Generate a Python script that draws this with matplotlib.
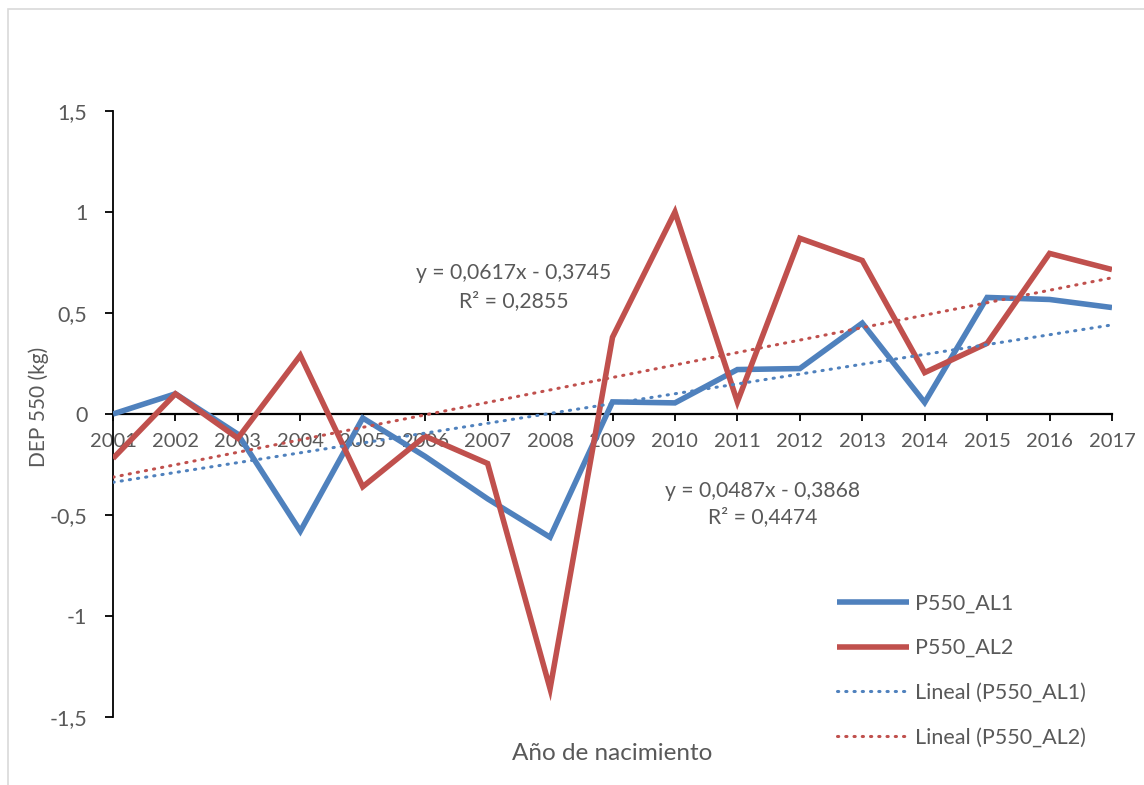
import numpy as np
import matplotlib
matplotlib.use("Agg")
import matplotlib.pyplot as plt
from matplotlib.patches import Rectangle

#----Data----#
years = [2001, 2002, 2003, 2004, 2005, 2006, 2007, 2008, 2009,
         2010, 2011, 2012, 2013, 2014, 2015, 2016, 2017]
p550_al1 = [0.0, 0.10, -0.10, -0.58, -0.02, -0.21, -0.42, -0.61, 0.06,
            0.055, 0.22, 0.225, 0.45, 0.057, 0.577, 0.567, 0.527]
p550_al2 = [-0.22, 0.10, -0.12, 0.29, -0.36, -0.11, -0.245, -1.36, 0.38,
            1.0, 0.06, 0.87, 0.76, 0.205, 0.35, 0.795, 0.715]

# trend line coefficients as printed on the chart (x = 1..17)
slopes = [0.0487, 0.0617]
intercepts = [-0.3868, -0.3745]

y_ticks = [-1.5, -1, -0.5, 0, 0.5, 1, 1.5]
y_tick_labels = ["-1,5", "-1", "-0,5", "0", "0,5", "1", "1,5"]

series_names = ["P550_AL1", "P550_AL2"]
trend_names = ["Lineal (P550_AL1)", "Lineal (P550_AL2)"]

#----Style----#
blue = "#4F81BD"
red = "#C0504D"
grey_text = "#595959"
plt.rcParams['font.family'] = ['Lato', 'DejaVu Sans']
fs = 14.5

W, H = 1144, 785
fig = plt.figure(figsize=(W / 100, H / 100), dpi=100)
fig.patch.set_facecolor("white")

# light grey chart border (Excel chart area)
fig.patches.append(Rectangle((8 / W, -0.05), 1.1, 1 - 9 / H + 0.05,
                             transform=fig.transFigure, fill=False,
                             edgecolor="#D9D9D9", linewidth=1.2))

ax = fig.add_axes([113 / W, 1 - 717 / H, (1112 - 113) / W, (717 - 111) / H])
ax.set_facecolor("none")

x = np.arange(1, len(years) + 1)

l1, = ax.plot(x, p550_al1, color=blue, lw=4, solid_joinstyle="miter",
              solid_capstyle="butt", zorder=3)
l2, = ax.plot(x, p550_al2, color=red, lw=4, solid_joinstyle="miter",
              solid_capstyle="butt", zorder=4)

trend_lines = []
for s, b, c in zip(slopes, intercepts, [blue, red]):
    t, = ax.plot(x, s * x + b, color=c, lw=2.2, linestyle=(0, (0.4, 2.3)),
                 dash_capstyle="round", zorder=5)
    trend_lines.append(t)

ax.set_xlim(1, len(years))
ax.set_ylim(-1.5, 1.5)

ax.set_xticks(x)
ax.set_xticklabels([str(y) for y in years])
ax.set_yticks(y_ticks)
ax.set_yticklabels(y_tick_labels)

ax.spines['top'].set_visible(False)
ax.spines['right'].set_visible(False)
ax.spines['bottom'].set_position(('data', 0))
ax.spines['bottom'].set_linewidth(1.6)
ax.spines['left'].set_linewidth(1.3)
ax.spines['bottom'].set_zorder(2)

ax.tick_params(axis='x', direction='out', length=5, width=1.3, pad=9,
               labelsize=fs, colors="black")
ax.tick_params(axis='x', labelcolor=grey_text)
ax.tick_params(axis='y', direction='out', length=6, width=1.3, pad=12.5,
               labelsize=15.5, labelcolor=grey_text)

fig.text(39 / W, 1 - 407 / H, "DEP 550 (kg)", rotation=90, ha="center",
         va="center", fontsize=15, color=grey_text)
fig.text(612 / W, 1 - 754 / H, "Año de nacimiento", ha="center",
         va="center", fontsize=17.5, color=grey_text)

# trend line equations
eq2 = "y = 0,0617x - 0,3745\nR² = 0,2855"
eq1 = "y = 0,0487x - 0,3868\nR² = 0,4474"
fig.text(514 / W, 1 - 287 / H, eq2, ha="center", va="center",
         fontsize=15.2, color=grey_text, linespacing=1.5)
fig.text(763 / W, 1 - 504 / H, eq1, ha="center", va="center",
         fontsize=15.2, color=grey_text, linespacing=1.4)

leg = ax.legend([l1, l2] + trend_lines, series_names + trend_names,
                loc="upper left", bbox_to_anchor=(818 / W, 1 - 574 / H),
                bbox_transform=fig.transFigure, frameon=False,
                fontsize=15.5, labelcolor=grey_text, handlelength=3.35,
                handletextpad=0.25, labelspacing=1.15)

fig.savefig("out.png", dpi=100, facecolor="white")
